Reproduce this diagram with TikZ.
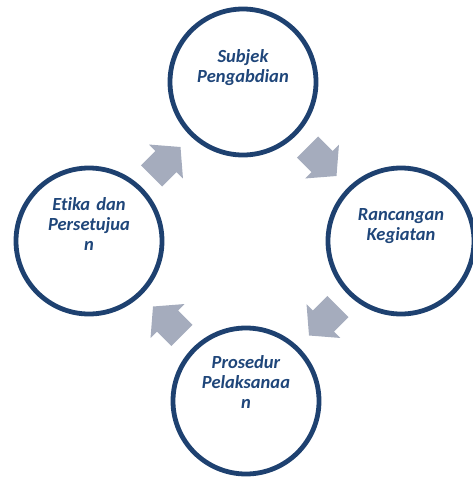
\documentclass[tikz,border=0pt]{standalone}
\usepackage{fontspec}
\newfontfamily\labfont{Carlito}[Ligatures={NoCommon}, RawFeature={-liga;-clig;-dlig}]
\usetikzlibrary{calc}
\definecolor{circblue}{RGB}{30,65,112}
\definecolor{textblue}{RGB}{31,70,122}
\definecolor{arrowgray}{RGB}{165,172,189}
\tikzset{
  stage/.style={circle, draw=circblue, line width=4.8pt, fill=white, minimum size=146pt, inner sep=0pt},
  lab/.style={anchor=base, align=center, text width=130pt, inner sep=0pt, text=textblue,
    font=\labfont\bfseries\itshape\fontsize{18.5}{20}\selectfont},
  blockarrow/.pic={
    \fill[arrowgray] (-20.5,-15) -- (0,-15) -- (0,-24) -- (20.5,0) -- (0,24) -- (0,15) -- (-20.5,15) -- cycle;
  }
}
\begin{document}
\begin{tikzpicture}[x=1pt, y=-1pt]
\useasboundingbox (0,0) rectangle (472,477);
\node[stage] (top) at (243,82) {};
\node[stage] (right) at (401,241) {};
\node[stage] (bottom) at (246,401) {};
\node[stage] (left) at (89,241) {};
\node[lab] (ttop) at ([yshift=20pt]top.center) {Subjek\\Pengabdian};
\node[lab] (tright) at ([yshift=21pt]right.center) {Rancangan\\Kegiatan};
\node[lab] (tbottom) at ([yshift=33pt]bottom.center) {Prosedur\\Pelaksanaa\\n};
\node[lab] (tleft) at ([yshift=31pt]left.center) {Etika dan\\Persetujua\\n};
\pic[rotate=-45] at ($(top)!0.5!(right)$) {blockarrow};
\pic[rotate=-135] at ($(right)!0.5!(bottom)$) {blockarrow};
\pic[rotate=135] at ($(bottom)!0.5!(left)$) {blockarrow};
\pic[rotate=45] at ($(left)!0.5!(top)$) {blockarrow};
\end{tikzpicture}
\end{document}
